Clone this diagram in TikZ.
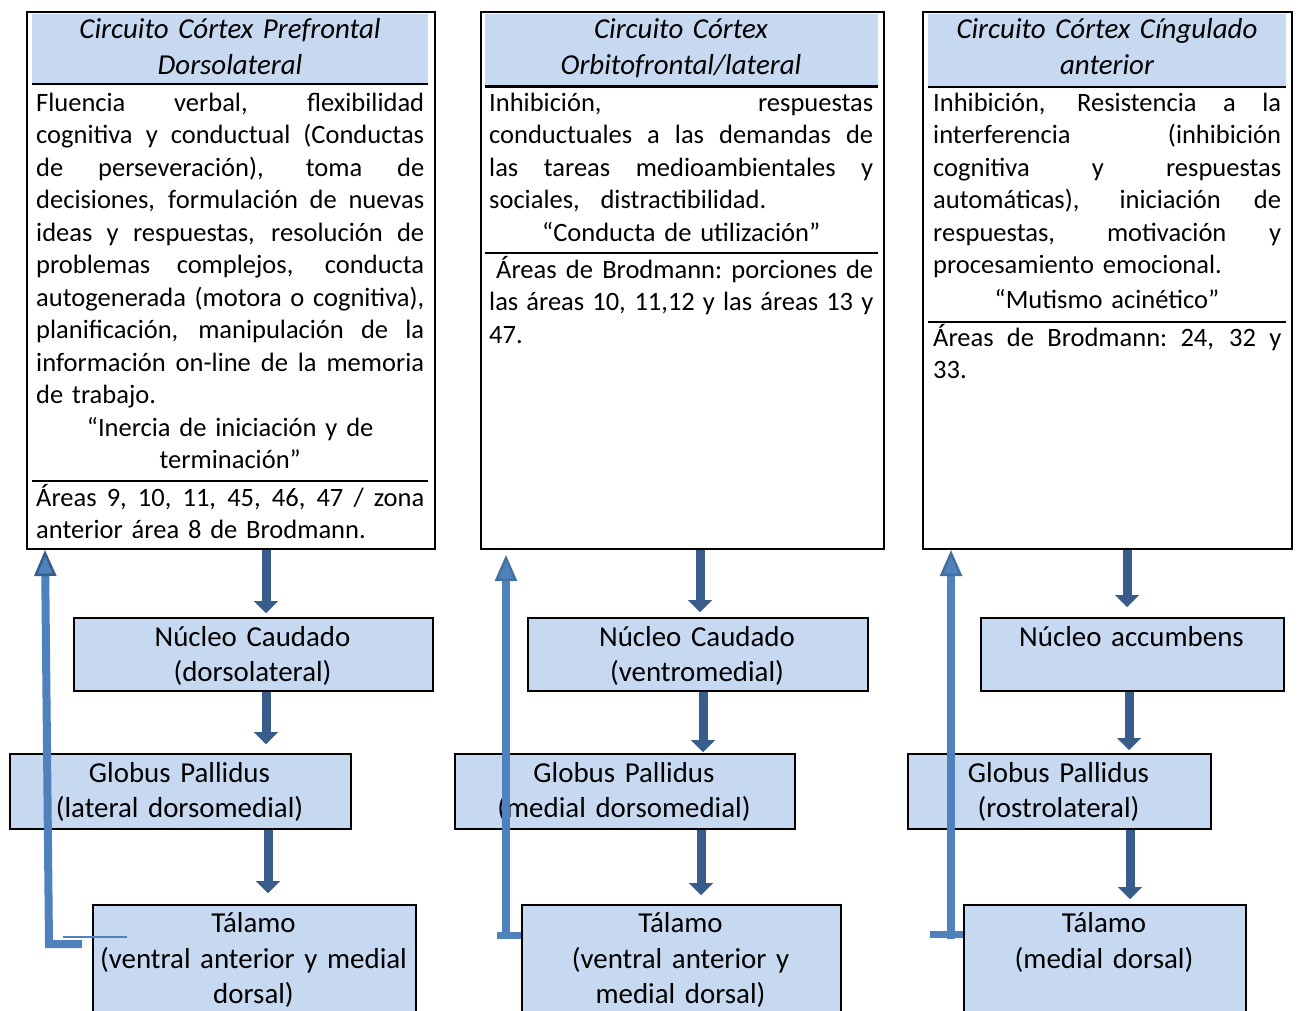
\documentclass[tikz,border=0pt]{standalone}
\usepackage{fontspec}
\setmainfont{Carlito}
\usetikzlibrary{arrows.meta}
\definecolor{hdr}{HTML}{C6D9F1}
\definecolor{darr}{HTML}{385D8A}
\definecolor{farr}{HTML}{4F81BD}
\definecolor{fhead}{HTML}{41719C}
\newcommand{\lnJ}[1]{{\spaceskip=0.226em plus 1fil minus 0.08em\xspaceskip=\spaceskip\hbox to \hsize{#1}}\par}
\newcommand{\lnL}[1]{\hbox to \hsize{#1\hss}\par}
\newcommand{\lnC}[1]{\hbox to \hsize{\hss#1\hss}\par}
\tikzset{
  topbox/.style={draw=black, line width=2pt, inner sep=0pt, anchor=north west},
  lbox/.style={draw=black, fill=hdr, line width=2pt, inner sep=0pt, anchor=north west},
  bodytxt/.style={inner sep=0pt, anchor=base west, font=\fontsize{26.5}{32.5}\selectfont},
  hdtxt/.style={inner sep=0pt, anchor=base, font=\itshape\fontsize{28.9}{35.5}\selectfont},
  ltxt/.style={inner sep=0pt, anchor=base, font=\fontsize{28.9}{35.5}\selectfont},
  sepline/.style={draw=black, line width=2.2pt},
  darrow/.style={draw=darr, line width=9pt, -{Triangle[width=24pt,length=12pt,line width=0.01pt]}},
  farrow/.style={draw=farr, line width=8pt, miter limit=10, -{Triangle[width=22pt,length=26pt,line width=2.5pt,fill=farr,color=#1]}},
  fbar/.style={draw=farr, line width=7pt},
}
\begin{document}
\begin{tikzpicture}[x=1pt,y=-1pt]
\useasboundingbox (0,0) rectangle (1299,1010);
\fill[white] (0,0) rectangle (1299,1010);
\clip (0,0) rectangle (1299,1010);

% ===== top boxes =====
\node[topbox, minimum width=408pt, minimum height=537pt] (c1top) at (26,11) {};
\node[topbox, minimum width=403pt, minimum height=537pt] (c2top) at (480,11) {};
\node[topbox, minimum width=369pt, minimum height=537pt] (c3top) at (922,11) {};

% header fills and separators
\fill[hdr] (32,14) rectangle (428,83);
\draw[sepline] (32,84) -- (428,84);
\fill[hdr] (485,14) rectangle (878,85);
\draw[sepline] (485,86.5) -- (878,86.5);
\fill[hdr] (928,14) rectangle (1286,86);
\draw[sepline] (928,87) -- (1286,87);

\draw[sepline] (32,481) -- (428,481);
\draw[sepline] (485,253) -- (878,253);
\draw[sepline] (928,322) -- (1286,322);

% headers
\node[hdtxt, text width=396pt] (c1hd) at (230,38.5) {\lnC{Circuito Córtex Prefrontal}\lnC{Dorsolateral}};
\node[hdtxt, text width=393pt] (c2hd) at (681,38.5) {\lnC{Circuito Córtex}\lnC{Orbitofrontal/lateral}};
\node[hdtxt, text width=358pt] (c3hd) at (1107,38.5) {\lnC{Circuito Córtex Cíngulado}\lnC{anterior}};

% body texts
\node[bodytxt, text width=388pt] (c1txt) at (36,111) {%
\lnJ{Fluencia verbal, flexibilidad}%
\lnJ{cognitiva y conductual (Conductas}%
\lnJ{de perseveración), toma de}%
\lnJ{decisiones, formulación de nuevas}%
\lnJ{ideas y respuestas, resolución de}%
\lnJ{problemas complejos, conducta}%
\lnJ{autogenerada (motora o cognitiva),}%
\lnJ{planificación, manipulación de la}%
\lnJ{información on-line de la memoria}%
\lnL{de trabajo.}%
\lnC{“Inercia de iniciación y de}%
\lnC{terminación”}};
\node[bodytxt, text width=388pt] (c1area) at (36,506) {%
\lnJ{Áreas 9, 10, 11, 45, 46, 47 / zona}%
\lnL{anterior área 8 de Brodmann.}};

\node[bodytxt, text width=384pt] (c2txt) at (489,111) {%
\lnJ{Inhibición, respuestas}%
\lnJ{conductuales a las demandas de}%
\lnJ{las tareas medioambientales y}%
\lnL{sociales,\hspace{12pt} distractibilidad.}%
\lnC{“Conducta de utilización”}};
\node[bodytxt, text width=384pt] (c2area) at (489,278) {%
\lnJ{\hspace*{7pt}Áreas de Brodmann: porciones de}%
\lnJ{las áreas 10, 11,12 y las áreas 13 y}%
\lnL{47.}};

\node[bodytxt, text width=348pt] (c3txt) at (933,111) {%
\lnJ{Inhibición, Resistencia a la}%
\lnJ{interferencia (inhibición}%
\lnJ{cognitiva y respuestas}%
\lnJ{automáticas), iniciación de}%
\lnJ{respuestas, motivación y}%
\lnL{procesamiento emocional.}};
\node[bodytxt, anchor=base, text width=348pt] (c3quote) at (1107,308) {\lnC{“Mutismo acinético”}};
\node[bodytxt, text width=348pt] (c3area) at (933,346) {%
\lnJ{Áreas de Brodmann: 24, 32 y}%
\lnL{33.}};

% ===== lower boxes =====
\node[lbox, minimum width=359pt, minimum height=73pt] (c1nuc) at (73,617) {};
\node[lbox, minimum width=341pt, minimum height=75pt] (c1glo) at (9,753) {};
\node[lbox, minimum width=323pt, minimum height=115pt] (c1tal) at (92,904) {};
\node[lbox, minimum width=340pt, minimum height=73pt] (c2nuc) at (527,617) {};
\node[lbox, minimum width=340pt, minimum height=75pt] (c2glo) at (454,753) {};
\node[lbox, minimum width=319pt, minimum height=115pt] (c2tal) at (521,904) {};
\node[lbox, minimum width=303pt, minimum height=73pt] (c3nuc) at (980,617) {};
\node[lbox, minimum width=303pt, minimum height=75pt] (c3glo) at (907,753) {};
\node[lbox, minimum width=282pt, minimum height=115pt] (c3tal) at (963,904) {};

\node[ltxt, text width=359pt] (c1nuct) at (252.5,646) {\lnC{Núcleo Caudado}\lnC{(dorsolateral)}};
\node[ltxt, text width=341pt] (c1glot) at (179.5,782) {\lnC{Globus Pallidus}\lnC{(lateral dorsomedial)}};
\node[ltxt, text width=323pt] (c1talt) at (253.5,932.5) {\lnC{Tálamo}\lnC{(ventral anterior y medial}\lnC{dorsal)}};
\node[ltxt, text width=340pt] (c2nuct) at (697,646) {\lnC{Núcleo Caudado}\lnC{(ventromedial)}};
\node[ltxt, text width=340pt] (c2glot) at (624,782) {\lnC{Globus Pallidus}\lnC{(medial dorsomedial)}};
\node[ltxt, text width=319pt] (c2talt) at (680.5,932.5) {\lnC{Tálamo}\lnC{(ventral anterior y}\lnC{medial dorsal)}};
\node[ltxt, text width=303pt] (c3nuct) at (1131.5,646) {\lnC{Núcleo accumbens}};
\node[ltxt, text width=303pt] (c3glot) at (1058.5,782) {\lnC{Globus Pallidus}\lnC{(rostrolateral)}};
\node[ltxt, text width=282pt] (c3talt) at (1104,932.5) {\lnC{Tálamo}\lnC{(medial dorsal)}};

% ===== descending arrows =====
\draw[darrow, shorten >=4pt] ([xshift=12.5pt]c1nuc.north |- c1top.south) -- ([xshift=12.5pt]c1nuc.north);
\draw[darrow, shorten >=9pt] ([xshift=12.5pt]c1nuc.south) -- ([xshift=12.5pt]c1nuc.south |- c1glo.north);
\draw[darrow, shorten >=11pt] ([xshift=14.5pt]c1nuc.south |- c1glo.south) -- ([xshift=14.5pt]c1nuc.south |- c1tal.north);

\draw[darrow, shorten >=5pt] ([xshift=2pt]c2nuc.north |- c2top.south) -- ([xshift=2pt]c2nuc.north);
\draw[darrow, shorten >=1pt] ([xshift=5pt]c2nuc.south) -- ([xshift=5pt]c2nuc.south |- c2glo.north);
\draw[darrow, shorten >=9pt] ([xshift=3pt]c2nuc.south |- c2glo.south) -- ([xshift=3pt]c2nuc.south |- c2tal.north);

\draw[darrow, shorten >=10pt] ([xshift=-5.5pt]c3nuc.north |- c3top.south) -- ([xshift=-5.5pt]c3nuc.north);
\draw[darrow, shorten >=3pt] ([xshift=-3.5pt]c3nuc.south) -- ([xshift=-3.5pt]c3nuc.south |- c3glo.north);
\draw[darrow, shorten >=5pt] ([xshift=-2.5pt]c3nuc.south |- c3glo.south) -- ([xshift=-2.5pt]c3nuc.south |- c3tal.north);

% ===== feedback arrows =====
\coordinate (f1) at (82,944);
\draw[farrow=darr] (f1) -- ++(-33,0) -- ([xshift=19pt]c1top.south west);
\coordinate (t1) at (63,937);
\draw[draw=farr, line width=1.6pt] (t1) -- ([xshift=64pt]t1);

\coordinate (f2) at (497,935);
\draw[fbar] (f2) -- (f2 -| c2tal.west);
\draw[farrow=fhead, shorten >=5pt] ([xshift=9pt,yshift=-3pt]f2) -- ([xshift=26pt]c2top.south west);

\coordinate (f3) at (930,934);
\draw[fbar] (f3) -- (f3 -| c3tal.west);
\draw[farrow=fhead] ([xshift=21pt,yshift=-5pt]f3) -- ([xshift=29pt]c3top.south west);
\end{tikzpicture}
\end{document}
